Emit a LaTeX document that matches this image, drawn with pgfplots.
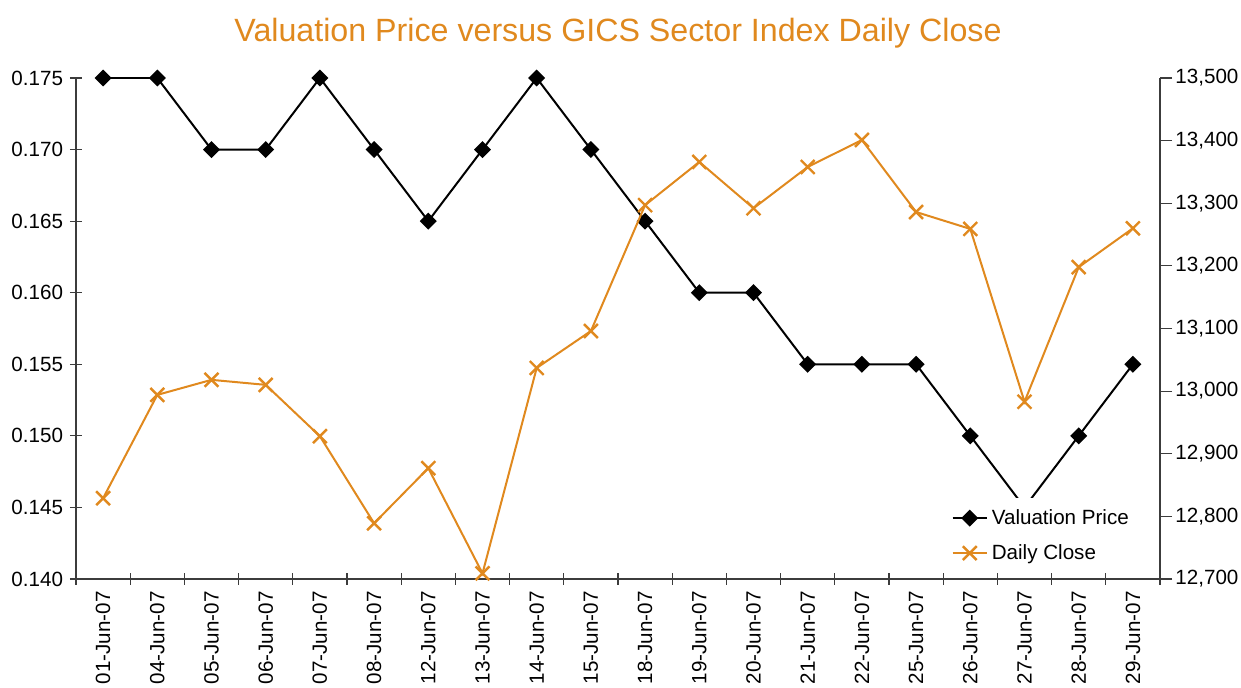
\documentclass[border=0pt]{standalone}
\usepackage{fontspec}
\setmainfont{Liberation Sans}
\usepackage{pgfplots}
\pgfplotsset{compat=1.18}
\definecolor{orng}{RGB}{224,137,30}
\definecolor{axgray}{RGB}{60,60,60}
\begin{document}
\begin{tikzpicture}
\pgfplotsset{every axis/.append style={scale only axis, width=542pt, height=250.5pt,
  xmin=0, xmax=20, tick align=outside, major tick length=6pt,
  /pgf/number format/assume math mode=true, scaled y ticks=false,
  tick label style={font=\fontsize{10.3}{12}\selectfont},
  tick style={line width=0.6pt, axgray}}}
\begin{axis}[name=ax, axis x line=bottom, axis y line=left,
  axis line style={-, line width=0.6pt, axgray},
  ymin=0.14, ymax=0.175,
  ytick={0.140,0.145,0.150,0.155,0.160,0.165,0.170,0.175},
  yticklabel style={/pgf/number format/fixed, /pgf/number format/precision=3, /pgf/number format/fixed zerofill, inner sep=1pt, xshift=-2.3pt},
  xtick={0,...,20},
  x tick label as interval,
  xticklabels={01-Jun-07,04-Jun-07,05-Jun-07,06-Jun-07,07-Jun-07,08-Jun-07,12-Jun-07,13-Jun-07,14-Jun-07,15-Jun-07,18-Jun-07,19-Jun-07,20-Jun-07,21-Jun-07,22-Jun-07,25-Jun-07,26-Jun-07,27-Jun-07,28-Jun-07,29-Jun-07},
  xticklabel style={rotate=90, anchor=east, inner sep=3pt}]
\addplot[black, line width=1pt, mark=square*, mark size=2.5pt, mark options={rotate=45, solid}] coordinates {
(0.5,0.175) (1.5,0.175) (2.5,0.170) (3.5,0.170) (4.5,0.175) (5.5,0.170) (6.5,0.165) (7.5,0.170) (8.5,0.175) (9.5,0.170)
(10.5,0.165) (11.5,0.160) (12.5,0.160) (13.5,0.155) (14.5,0.155) (15.5,0.155) (16.5,0.150) (17.5,0.145) (18.5,0.150) (19.5,0.155)};
\end{axis}
\begin{axis}[axis y line*=right, axis x line=none, xtick=\empty, xticklabels={},
  axis line style={-, line width=0.6pt, axgray},
  ymin=12700, ymax=13500, ytick={12700,12800,...,13500},
  yticklabel style={/pgf/number format/fixed, /pgf/number format/precision=0, /pgf/number format/1000 sep={,}, inner sep=1pt, xshift=0.5pt},
  legend style={at={(0.801,0.162)}, anchor=north west, draw=none, fill=white,
    font=\fontsize{10.3}{12}\selectfont, row sep=4.5pt, inner sep=3.5pt},
  legend cell align=left]
\addlegendimage{black, line width=1pt, mark=square*, mark size=2.5pt, mark options={rotate=45, solid}}
\addlegendentry{Valuation Price}
\addplot[orng, line width=1pt, mark=x, mark size=4.9pt, mark options={line width=1.2pt}] coordinates {
(0.5,12829) (1.5,12994) (2.5,13018) (3.5,13010) (4.5,12928) (5.5,12789) (6.5,12877) (7.5,12709) (8.5,13037) (9.5,13096)
(10.5,13297) (11.5,13366) (12.5,13292) (13.5,13358) (14.5,13401) (15.5,13286) (16.5,13259) (17.5,12983) (18.5,13198) (19.5,13260)};
\addlegendentry{Daily Close}
\end{axis}
\node[text=orng, font=\fontsize{16.1}{19}\selectfont, anchor=center] at ([yshift=22.5pt]ax.north) {Valuation Price versus GICS Sector Index Daily Close};
\pgfresetboundingbox
\path[use as bounding box] ([shift={(-38pt,-54.5pt)}]ax.south west) rectangle ([shift={(582.5pt,289.5pt)}]ax.south west);
\end{tikzpicture}
\end{document}
